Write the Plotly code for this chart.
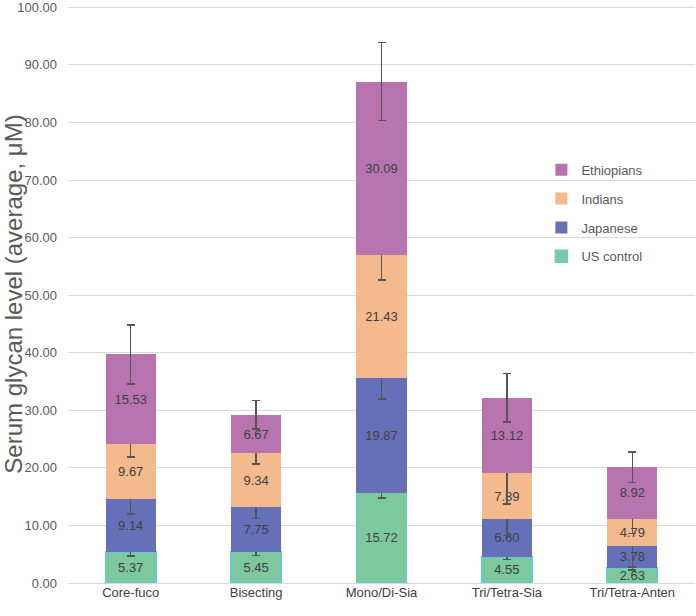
import plotly.graph_objects as go

categories = ["Core-fuco", "Bisecting", "Mono/Di-Sia", "Tri/Tetra-Sia", "Tri/Tetra-Anten"]

us_control = [5.37, 5.45, 15.72, 4.55, 2.63]
japanese = [9.14, 7.75, 19.87, 6.60, 3.78]
indians = [9.67, 9.34, 21.43, 7.89, 4.79]
ethiopians = [15.53, 6.67, 30.09, 13.12, 8.92]

us_err = [0.65, 0.7, 0.95, 0.5, 0.4]
japanese_err = [2.5, 2.0, 3.6, 2.9, 3.6]
indians_err = [2.25, 1.9, 4.4, 5.3, 2.6]
ethiopians_err = [5.1, 2.5, 6.8, 4.2, 2.65]

y_ticks = [0, 10, 20, 30, 40, 50, 60, 70, 80, 90, 100]

FONT = "Liberation Sans, Arial, sans-serif"

series = [
    ("US control", us_control, us_err, "#7DC89C", dict(color="#62CCD6", width=1.5), 4),
    ("Japanese", japanese, japanese_err, "#6670B9", dict(width=0), 3),
    ("Indians", indians, indians_err, "#F4BA8D", dict(width=0), 2),
    ("Ethiopians", ethiopians, ethiopians_err, "#B874AF", dict(width=0), 1),
]

fig = go.Figure()
for name, vals, errs, color, line, rank in series:
    fig.add_trace(go.Bar(
        x=categories, y=vals, name=name, legendgroup=name, legendrank=rank,
        marker=dict(color=color, line=line),
        error_y=dict(type="data", array=errs, visible=True,
                     color="#555555", thickness=1.5, width=4),
        texttemplate="%{y:.2f}", textposition="inside",
        insidetextanchor="middle", textangle=0,
        textfont=dict(color="#404040", size=13, family=FONT),
    ))

fig.update_layout(
    barmode="stack",
    bargap=0.6,
    width=696, height=616,
    margin=dict(l=68, r=1, t=5, b=33),
    plot_bgcolor="white", paper_bgcolor="white",
    font=dict(family=FONT, color="#595959", size=13),
    uniformtext=dict(minsize=13, mode="show"),
    legend=dict(
        traceorder="grouped", tracegroupgap=9,
        x=0.755, y=0.741, xanchor="left", yanchor="top",
        bgcolor="rgba(0,0,0,0)", font=dict(size=13, color="#595959", family=FONT),
        itemwidth=30,
    ),
    yaxis=dict(
        range=[0, 100.4], tickvals=y_ticks,
        tickformat=".2f", automargin=False, ticklabeloverflow="allow",
        showgrid=True, gridcolor="#D9D9D9", gridwidth=1,
        zeroline=True, zerolinecolor="#D9D9D9", zerolinewidth=1,
        ticks="", ticklabelstandoff=10,
        tickfont=dict(size=13, color="#595959", family=FONT),
        title=dict(text="Serum glycan level (average, μM)",
                   font=dict(size=24, color="#595959", family=FONT), standoff=6),
    ),
    xaxis=dict(showline=False, ticks="", automargin=False,
               tickfont=dict(size=13, color="#404040", family=FONT)),
)

fig.write_html("out.html", config={"displayModeBar": False},
               post_script="document.body.style.margin='0';")
